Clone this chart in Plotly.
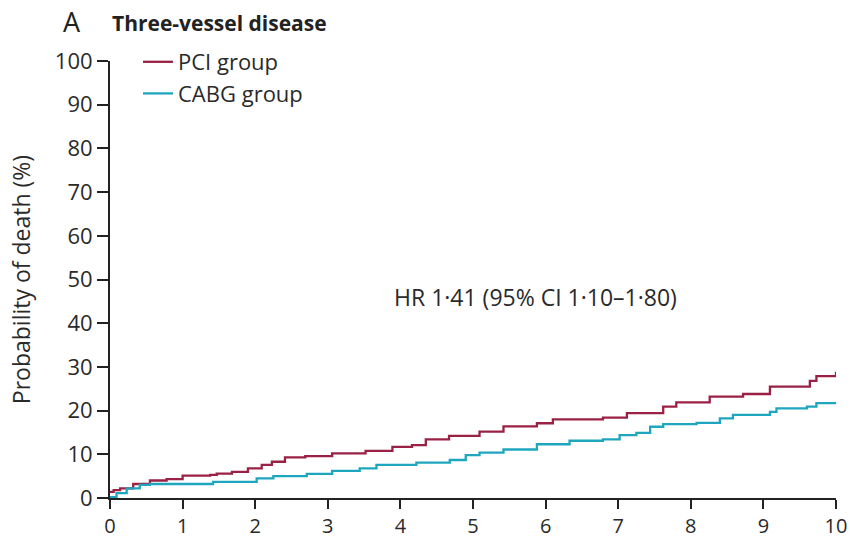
import plotly.graph_objects as go

# Data (years, cumulative % death)
pci_x = [0, 0.05, 0.14, 0.32, 0.55, 0.78, 1.0, 1.38, 1.47, 1.68, 1.9, 2.09, 2.23, 2.41, 2.69, 3.06,
         3.52, 3.89, 4.16, 4.35, 4.67, 5.09, 5.42, 5.88, 6.1, 6.79, 7.12, 7.62, 7.8, 8.08, 8.26,
         8.72, 9.09, 9.64, 9.73, 10.0]
pci_y = [1.4, 1.8, 2.2, 3.2, 4.0, 4.3, 5.1, 5.3, 5.6, 6.0, 6.8, 7.6, 8.3, 9.3, 9.6, 10.2,
         10.8, 11.7, 12.1, 13.4, 14.2, 15.2, 16.4, 17.1, 18.0, 18.4, 19.4, 20.9, 21.9, 21.9, 23.2,
         23.8, 25.5, 26.8, 27.9, 28.9]

cabg_x = [0, 0.09, 0.23, 0.41, 0.55, 1.19, 1.42, 1.79, 2.02, 2.25, 2.71, 3.06, 3.44, 3.67, 4.13,
          4.22, 4.68, 4.9, 5.09, 5.42, 5.88, 6.33, 6.79, 7.02, 7.25, 7.44, 7.62, 8.08, 8.4, 8.58,
          9.09, 9.18, 9.6, 9.73, 10.0]
cabg_y = [0.2, 1.1, 2.2, 3.0, 3.2, 3.2, 3.7, 3.7, 4.5, 5.0, 5.5, 6.2, 6.8, 7.6, 7.6,
          8.1, 8.7, 9.8, 10.4, 11.1, 12.3, 13.1, 13.4, 14.4, 14.9, 16.3, 16.9, 17.2, 18.2, 19.0,
          19.7, 20.5, 20.9, 21.7, 21.7]

x_ticks = list(range(0, 11))
y_ticks = list(range(0, 101, 10))

PCI_COLOR = "#9a2145"
CABG_COLOR = "#1fa6bf"
FONT = "Open Sans"
TXT = "#2a2a2a"

# plot area in pixels
L, R, T, B = 110, 836, 61, 498
W, H = 850, 540

def px_x(p):
    return (p - L) / (R - L)

def px_y(p):
    return (B - p) / (B - T)

fig = go.Figure()
fig.add_trace(go.Scatter(x=pci_x, y=pci_y, mode="lines", name="PCI group", legendgroup="a",
                         line=dict(color=PCI_COLOR, width=2.3, shape="hv"), cliponaxis=False))
fig.add_trace(go.Scatter(x=cabg_x, y=cabg_y, mode="lines", name="CABG group", legendgroup="b",
                         line=dict(color=CABG_COLOR, width=2.3, shape="hv"), cliponaxis=False))

fig.update_layout(
    width=W, height=H,
    margin=dict(l=L, r=W - R, t=T, b=H - B),
    paper_bgcolor="white", plot_bgcolor="white",
    font=dict(family=FONT, size=21, color=TXT),
    showlegend=True,
    legend=dict(x=px_x(138), y=px_y(41), xanchor="left", yanchor="top", bgcolor="rgba(0,0,0,0)",
                font=dict(family=FONT, size=22, color=TXT), tracegroupgap=0),
    xaxis=dict(range=[0, 10], tickvals=x_ticks, ticks="outside", ticklen=9, tickwidth=2,
               tickcolor="#222", showline=True, linecolor="#222", linewidth=2, automargin=False,
               showgrid=False, zeroline=False, tickfont=dict(size=20, color=TXT)),
    yaxis=dict(range=[0, 100], tickvals=y_ticks, ticks="outside", ticklen=11, tickwidth=2,
               tickcolor="#222", showline=True, linecolor="#222", linewidth=2, automargin=False,
               showgrid=False, zeroline=False, tickfont=dict(size=22, color=TXT),
               title=dict(text="Probability of death (%)", font=dict(size=23, color=TXT), standoff=18)),
    annotations=[
        dict(text="HR 1·41 (95% CI 1·10–1·80)", x=px_x(535), y=px_y(297),
             xref="paper", yref="paper", showarrow=False, font=dict(size=23, color=TXT)),
        dict(text="A", x=px_x(61), y=px_y(22), xref="paper", yref="paper", xanchor="left",
             yanchor="middle", showarrow=False, font=dict(size=27, color="#222")),
        dict(text="<b>Three-vessel disease</b>", x=px_x(110), y=px_y(23), xref="paper", yref="paper",
             xanchor="left", yanchor="middle", showarrow=False, font=dict(size=21, color="#222")),
    ],
)

fig.write_html("out.html")
